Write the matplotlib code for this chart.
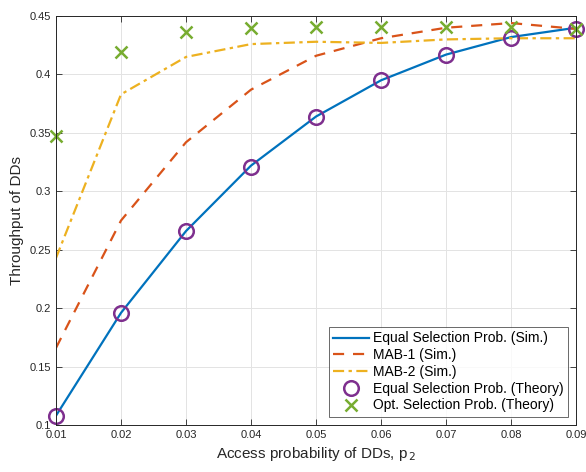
import matplotlib.pyplot as plt

plt.rcParams['font.family'] = ['Liberation Sans', 'DejaVu Sans']

p2 = [0.01, 0.02, 0.03, 0.04, 0.05, 0.06, 0.07, 0.08, 0.09]
equal_sim = [0.108, 0.196, 0.266, 0.322, 0.364, 0.395, 0.417, 0.432, 0.440]
mab1_sim = [0.166, 0.275, 0.342, 0.387, 0.416, 0.431, 0.440, 0.444, 0.439]
mab2_sim = [0.243, 0.383, 0.415, 0.426, 0.428, 0.427, 0.430, 0.431, 0.431]
equal_theory = [0.108, 0.196, 0.266, 0.321, 0.364, 0.395, 0.417, 0.431, 0.439]
opt_theory = [0.347, 0.419, 0.436, 0.440, 0.441, 0.441, 0.441, 0.441, 0.439]

fig = plt.figure(figsize=(5.86, 4.72), dpi=100)
ax = fig.add_axes([0.0956, 0.0996, 0.8874, 0.8664])

ax.plot(p2, equal_sim, '-', color='#0072BD', lw=1.6, label='Equal Selection Prob. (Sim.)')
ax.plot(p2, mab1_sim, '--', color='#D95319', lw=1.6, dashes=(5, 4), label='MAB-1 (Sim.)')
ax.plot(p2, mab2_sim, '-.', color='#EDB120', lw=1.6, dashes=(5, 2, 1.5, 2), label='MAB-2 (Sim.)')
ax.plot(p2, equal_theory, 'o', color='#7E2F8E', ms=10.5, mfc='none', mew=1.8,
        label='Equal Selection Prob. (Theory)', clip_on=False)
ax.plot(p2, opt_theory, 'x', color='#77AC30', ms=8, mew=1.8,
        label='Opt. Selection Prob. (Theory)', clip_on=False)

ax.set_xlim(0.01, 0.09)
ax.set_ylim(0.1, 0.45)
ax.set_xticks(p2)
ax.set_xticklabels(['0.01', '0.02', '0.03', '0.04', '0.05', '0.06', '0.07', '0.08', '0.09'])
ax.set_yticks([0.1, 0.15, 0.2, 0.25, 0.3, 0.35, 0.4, 0.45])
ax.set_yticklabels(['0.1', '0.15', '0.2', '0.25', '0.3', '0.35', '0.4', '0.45'])
ax.tick_params(direction='in', top=True, right=True, labelsize=8, colors='#262626',
               length=4, width=0.6)
ax.grid(True, color='#e3e3e3', lw=0.7)
ax.set_axisbelow(True)
for s in ax.spines.values():
    s.set_color('#262626')
    s.set_linewidth(0.7)

ax.set_xlabel('Access probability of DDs, p$_{\\,2}$', fontsize=11, color='#262626')
ax.set_ylabel('Throughput of DDs', fontsize=11, color='#262626')

leg = ax.legend(loc='lower right', fontsize=10, frameon=True, fancybox=False,
                edgecolor='#262626', handlelength=2.6, borderpad=0.3,
                labelspacing=0.2, handletextpad=0.25, borderaxespad=0.6)
leg.get_frame().set_linewidth(0.6)

fig.savefig('out.png', dpi=100)
